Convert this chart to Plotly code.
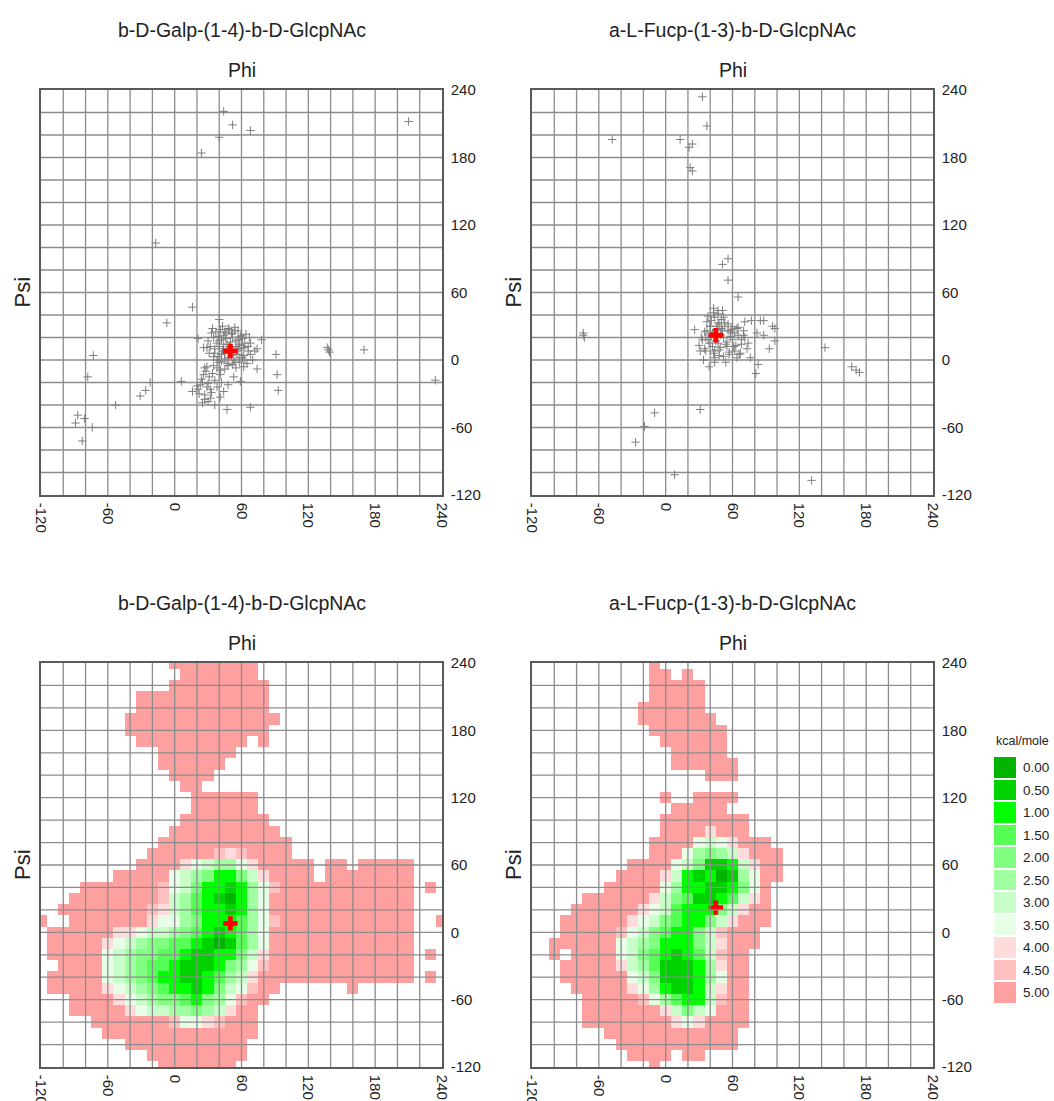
import plotly.graph_objects as go

# ---------------------------------------------------------------- data
phi_vals = list(range(-120, 241, 10))        # heatmap column centres
psi_vals = list(range(240, -121, -10))       # heatmap row centres, top row first

# energy level per cell: '.' = empty, '0'..'9','a' = level index 0..10
galp_rows = [
    "............aaaaaaaa.................",
    ".............aaaaaaa.................",
    "............aaaaaaaaa................",
    ".........aaaaaaaaaaaa................",
    ".........aaaaaaaaaaaa................",
    "........aaaaaaaaaaaaaa...............",
    "........aaaaaaaaaaaaa................",
    ".........aaaaaaaaaa.a................",
    "...........aaaaaaa...................",
    "...........aaaaaa....................",
    "............aaaa.....................",
    ".............aa......................",
    "..............aaaaaa.................",
    "..............aaaaaa.................",
    ".............aaaaaaaa................",
    "............aaaaaaaaaa...............",
    "...........aaaaaaaaaaaa..............",
    "..........aaaaaa989aaaa..............",
    ".........aaaa8765578aaaaa.aa.aaaaa...",
    ".......aaaaa765422468aaaa.aaaaaaaa...",
    "....aaaaaaa97642212579aaaaaaaaaaaa.a.",
    "...aaaaaaaa9653210257aaaaaaaaaaaaa...",
    "..aaaaaaaa98653221257aaaaaaaaaaaaa...",
    "a..aaaaaaa877542223579aaaaaaaaaaaa..a",
    ".aaaaaa88766543212357aaaaaaaaaaaaa...",
    ".aaaaa876544332101357aaaaaaaaaaaaa...",
    ".aaaaa765443321122468aaaaaaaaaaaaa.a.",
    "..aaaa765433211124579aaaaaaaaaaaaa...",
    ".aaaaa76543221123568aaaaaaaaaaaaaa.a.",
    ".aaaaa87654322124679aa......a........",
    "...aaaa876544324579aa................",
    "...aaaaa8766554568aa.................",
    ".....aaaaaaa97789aaa.................",
    "......aaaaaaaaaaaaaa.................",
    "........aaaaaaaaaaa..................",
    "..........aaaaaaaaa..................",
    "...........aaaaaaa...................",
]

fucp_rows = [
    "...........a.........................",
    "...........aa.a......................",
    "...........aaaaa.....................",
    "...........aaaaa.....................",
    "..........aaaaaa.....................",
    "..........aaaaaaa....................",
    "...........aaaaaaa...................",
    "............aaaaaa...................",
    ".............aaaaa...................",
    ".............aaaaaa..................",
    "................aaa..................",
    ".....................................",
    "............a..aaaa..................",
    ".............aaaaa...................",
    "............aaaaaaaa.................",
    "............aaaa8aaa.................",
    "...........aaaa7678aaa...............",
    "...........aaa754568aaa..............",
    ".........aaaa76411268aa..............",
    "........aaaa862120157aa..............",
    ".......aaaaa752211247a...............",
    ".....aaaaaa8643112368a...............",
    "....aaaaaa8763222468aa...............",
    "...aaaaaa8764322468aaa...............",
    "...aaaaa9764322469aaa................",
    "..aaaaaa7654222468aaa................",
    "..a.aaaa7643212369aa.................",
    "...aaaaa8653111258aa.................",
    "...aaaaaa764111257aa.................",
    "....aaaaa875211268aa.................",
    ".....aaaaa97532269aa.................",
    ".....aaaaaaa86467aaa.................",
    ".....aaaaaaaa878aaaa.................",
    ".......aaaaaaaaaaaa..................",
    "........aaaaaaaaaaa..................",
    ".........aaaa.aa.....................",
    "...........a.........................",
]

level_labels = ["0.00", "0.50", "1.00", "1.50", "2.00", "2.50",
                "3.00", "3.50", "4.00", "4.50", "5.00"]
level_colors = ["#00b400", "#00d200", "#00ff00", "#55ff55", "#80ff80",
                "#a0ffa0", "#c8ffc8", "#e6ffe6", "#ffdcdc", "#ffc0c0",
                "#ffa0a0"]

# sampled (phi, psi) conformations
galp_phi = [44, 52, 40, 68, 24, 210, -17, 16, -7, 40, 21,
            -73, -78, -22, -26, -31, -53, -87, -81, -89, -74, -83,
            138, 139, 137, 170, 234, 91, 92, 93, 74, 68, 74, 78,
            59, 53, 47, 68, 6, 27, 38, 35, 41, 26, 23, 20, 25, 32, 29, 27,
            30, 32, 41, 48, 41, 45, 36, 22, 16,
            26, 29, 33, 35, 38, 40, 42, 44, 45, 47, 48, 50, 52, 53, 55, 56,
            57, 58, 60, 62, 63, 65, 66, 45, 42, 38, 36, 40, 54, 60, 48, 32,
            30, 44, 52, 58, 62, 70, 68, 47, 55,
            34, 37, 39, 41, 43, 46, 49, 51, 54, 57, 59, 61, 64, 67, 36, 39,
            42, 45, 48, 51, 54, 57, 60, 63, 31, 35, 44, 50, 56, 62, 46, 52,
            58, 40, 43, 49, 55, 61, 66, 72,
            28, 31, 34, 24, 21, 33, 38, 30, 27, 25, 36, 44, 42, 29]
galp_psi = [221, 209, 198, 204, 184, 212, 104, 47, 33, 36, 19,
            4, -15, -20, -27, -32, -40, -49, -52, -56, -60, -72,
            9, 7, 11, 9, -18, 5, -13, -27, -8, 15, 10, 18,
            -19, -15, -44, -42, -19, -7, -7, -5, -9, -13, -22, -23, -20, -26, -24, -35,
            -37, -34, -33, -22, -13, -8, -18, -30, -28,
            11, 11, 24, 20, 15, 12, 18, 22, 6, 14, 2, 16, 20, 0, 12, 5,
            18, -2, 10, 4, 15, -3, 8, 25, 5, 0, 10, -2, 26, 22, 28, 12,
            17, 10, -4, 2, -6, 0, 5, -3, -7,
            28, 25, 21, 27, 30, 24, 27, 23, 29, 26, 21, 19, 23, 20, 6, 3,
            -1, 1, -5, 4, -2, 9, 13, 0, 6, 3, 14, 11, 8, 11, 19, 24,
            14, 17, 8, 12, 17, 2, 12, 8,
            -10, -15, -12, -17, -26, -29, -24, -21, -31, -38, -40, -28, -20, -6]

fucp_phi = [33, 37, -48, 13, 24, 21, 22, 24, 51, 56, 56, 65,
            -74, -74, -73,
            43, 37, 47, 71, 77, 85, 88, 98, 96, 82, 88, 98, 93, 76, 64, 83,
            81, 39, 30, 26, 35, 38, 40, 42, 44, 47, 50, 52, 55, 58, 60, 62,
            65, 68, 48, 36, 32, 53, 57, 70, 73, 41, 49, 46, 60, 66, 54, 44, 34,
            31, -10, -19, -27, 8, 131,
            143, 167, 171, 174,
            33, 37, 41, 44, 47, 50, 53, 56, 59, 62, 65, 68, 71, 74, 35, 39,
            43, 46, 49, 52, 55, 58, 61, 64, 67, 70, 38, 42, 45, 48, 51, 54,
            57, 60, 63, 40, 44, 48, 52, 56, 47, 51, 43, 36, 31]
fucp_psi = [234, 208, 196, 196, 192, 189, 171, 168, 85, 90, 71, 56,
            22, 24, 20,
            42, 34, 41, 34, 35, 35, 35, 28, 30, 24, 22, 17, 10, 2, 2, -4,
            -12, -6, 13, 27, 25, 18, 30, 12, 8, 15, 28, 20, 12, 25, 18, 8,
            22, 14, 4, 8, 20, 33, 5, 26, 10, 22, 22, 30, 30, 5, -2, -2, 0,
            -44, -47, -59, -73, -102, -107,
            11, -6, -9, -11,
            18, 26, 35, 38, 33, 36, 30, 32, 27, 24, 29, 18, 20, 15, 10, 15,
            6, 27, 11, 3, 16, 21, 12, 28, 6, 22, 39, 24, 17, 9, 26, 14,
            7, 20, 13, 30, 2, 32, 38, 26, 44, 44, 46, 20, 8]

galp_min = (50, 8)     # global minimum (phi, psi)
fucp_min = (45, 22)

panel_titles = ["b-D-Galp-(1-4)-b-D-GlcpNAc", "a-L-Fucp-(1-3)-b-D-GlcpNAc"]
tick_vals = [-120, -60, 0, 60, 120, 180, 240]

# ---------------------------------------------------------------- layout
W, H = 1054, 1101
NCOL = len(phi_vals)


def px_x(p):
    return p / W


def px_y(p):
    return 1 - p / H


col_dom = [(41, 442), (532, 933)]
row_dom = [(90, 495), (663, 1067)]

colorscale = []
n = len(level_colors)
for i, c in enumerate(level_colors):
    colorscale.append([i / n, c])
    colorscale.append([(i + 1) / n, c])


def decode(rows):
    z = []
    for r in rows:
        r = r.ljust(NCOL, ".")[:NCOL]
        z.append([None if ch == "." else int(ch, 16) for ch in r])
    return z


fig = go.Figure()

font_main = "Arial, Liberation Sans, sans-serif"
grid_col = "#8c8c8c"
frame_col = "#5a5a5a"

panels = [
    (1, 0, 0, "scatter", galp_phi, galp_psi, galp_min),
    (2, 0, 1, "scatter", fucp_phi, fucp_psi, fucp_min),
    (3, 1, 0, "heat", galp_rows, None, galp_min),
    (4, 1, 1, "heat", fucp_rows, None, fucp_min),
]

shapes = []
annotations = []

for idx, r, c, kind, a, b, mn in panels:
    xa = "x" if idx == 1 else f"x{idx}"
    ya = "y" if idx == 1 else f"y{idx}"
    if kind == "scatter":
        fig.add_trace(go.Scatter(
            x=a, y=b, mode="markers", xaxis=xa, yaxis=ya,
            marker=dict(symbol="cross-thin", size=6,
                        line=dict(color="#7f7f7f", width=1)),
            hoverinfo="x+y", showlegend=False))
    else:
        z = decode(a)[::-1]
        fig.add_trace(go.Heatmap(
            z=z, x=phi_vals, y=psi_vals[::-1], xaxis=xa, yaxis=ya,
            colorscale=colorscale, zmin=-0.5, zmax=n - 0.5,
            showscale=False, hoverongaps=False))
    fig.add_trace(go.Scatter(
        x=[mn[0]], y=[mn[1]], mode="markers", xaxis=xa, yaxis=ya,
        marker=dict(symbol="cross", size=12, color="#ff0000",
                    line=dict(width=0)),
        showlegend=False))

    xd = col_dom[c]
    yd = row_dom[r]
    axis_common = dict(
        range=[-120, 240], tickvals=tick_vals,
        ticktext=[str(v) for v in tick_vals],
        showgrid=False, zeroline=False, automargin=False,
        showline=True, mirror=True, linecolor=frame_col, linewidth=1.5,
        ticks="", tickfont=dict(family=font_main, size=15, color="#222"),
    )
    fig.update_layout({
        ("xaxis" if idx == 1 else f"xaxis{idx}"): dict(
            axis_common, domain=[px_x(xd[0]), px_x(xd[1])],
            anchor=ya, tickangle=90, ticklabelstandoff=3),
        ("yaxis" if idx == 1 else f"yaxis{idx}"): dict(
            axis_common, domain=[px_y(yd[1]), px_y(yd[0])],
            anchor=xa, side="right", ticklabelstandoff=4),
    })

    layer = "below" if kind == "scatter" else "above"
    for v in range(-100, 240, 20):
        shapes.append(dict(type="line", xref=xa, yref=ya, x0=v, x1=v,
                           y0=-120, y1=240, layer=layer,
                           line=dict(color=grid_col, width=1.3)))
        shapes.append(dict(type="line", xref=xa, yref=ya, y0=v, y1=v,
                           x0=-120, x1=240, layer=layer,
                           line=dict(color=grid_col, width=1.3)))

    cx = (xd[0] + xd[1]) / 2
    annotations.append(dict(
        text=panel_titles[c], x=px_x(cx), y=px_y(yd[0] - 60),
        xref="paper", yref="paper", showarrow=False,
        xanchor="center", yanchor="middle",
        font=dict(family=font_main, size=19.5, color="#222")))
    annotations.append(dict(
        text="Phi", x=px_x(cx), y=px_y(yd[0] - 20),
        xref="paper", yref="paper", showarrow=False,
        xanchor="center", yanchor="middle",
        font=dict(family=font_main, size=19.5, color="#222")))
    annotations.append(dict(
        text="Psi", x=px_x(xd[0] - 19), y=px_y((yd[0] + yd[1]) / 2),
        xref="paper", yref="paper", showarrow=False, textangle=-90,
        xanchor="center", yanchor="middle",
        font=dict(family=font_main, size=22, color="#222")))

# energy scale key
fig.add_trace(go.Heatmap(
    z=[[i] for i in range(n)], x=[0], y=level_labels,
    xaxis="x5", yaxis="y5", colorscale=colorscale,
    zmin=-0.5, zmax=n - 0.5, showscale=False, ygap=2,
    hoverinfo="y"))
fig.update_layout(
    xaxis5=dict(domain=[px_x(994), px_x(1016)], anchor="y5",
                showgrid=False, zeroline=False, showticklabels=False,
                showline=False, ticks="", automargin=False),
    yaxis5=dict(domain=[px_y(1004), px_y(756)], anchor="x5",
                side="right", autorange="reversed", type="category",
                showgrid=False, zeroline=False, showline=False, ticks="",
                ticklabelstandoff=6, automargin=False,
                tickfont=dict(family=font_main, size=13.5, color="#222")),
)
annotations.append(dict(
    text="kcal/mole", x=px_x(1022), y=px_y(741), xref="paper", yref="paper",
    showarrow=False, xanchor="center", yanchor="middle",
    font=dict(family=font_main, size=12.5, color="#222")))

fig.update_layout(
    width=W, height=H, margin=dict(l=0, r=0, t=0, b=0),
    paper_bgcolor="white", plot_bgcolor="white",
    shapes=shapes, annotations=annotations, showlegend=False,
)

fig.write_html("out.html")
